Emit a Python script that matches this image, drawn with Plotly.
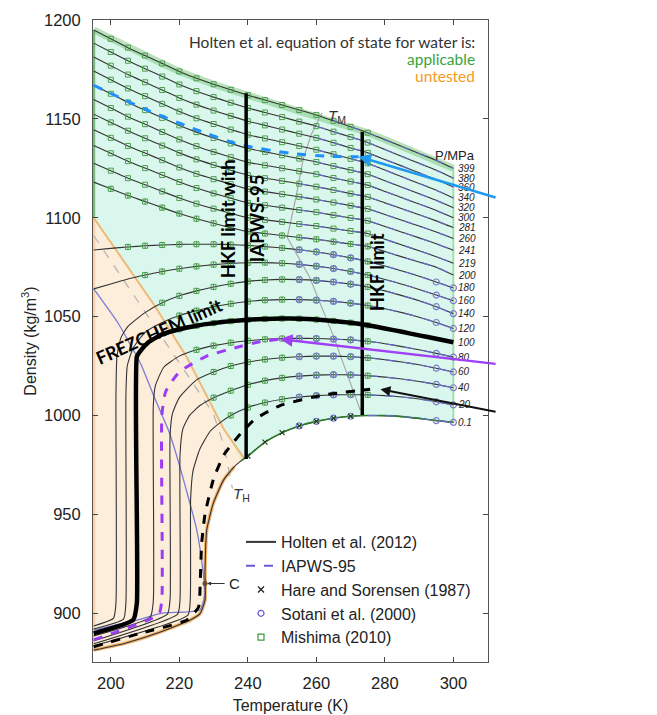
import plotly.graph_objects as go

# ---------------- axes ----------------
X_RANGE = [194.8, 310.1]
Y_RANGE = [875.3, 1200]
X_TICKS = [200, 220, 240, 260, 280, 300]
Y_TICKS = [900, 950, 1000, 1050, 1100, 1150, 1200]

# ---------------- isobars (Holten et al. 2012), density in kg/m3 ----------------
T_GRID = [195, 200, 205, 210, 215, 220, 225, 230, 235, 240, 245, 250, 255, 260, 265, 270,
          275, 280, 285, 290, 295, 300]
rho_399 = [1195, 1190.5, 1186, 1182, 1178, 1174, 1170.5, 1167.5, 1164.7, 1162, 1159.5, 1157, 1154.5, 1152, 1149, 1146, 1143, 1139.5, 1136, 1132.5, 1129, 1125]
rho_380 = [1188.3, 1183.8, 1179.4, 1175.4, 1171.4, 1167.4, 1164, 1161, 1158.2, 1155.5, 1153.2, 1150.9, 1148.6, 1146.3, 1143.5, 1140.8, 1138, 1134.5, 1131, 1127.5, 1124, 1120]
rho_360 = [1181.3, 1176.9, 1172.4, 1168.5, 1164.6, 1160.6, 1157.2, 1154.2, 1151.5, 1148.8, 1146.7, 1144.6, 1142.5, 1140.4, 1137.9, 1135.3, 1132.8, 1129.4, 1126.1, 1122.7, 1119.3, 1115.5]
rho_340 = [1174.2, 1169.8, 1165.4, 1161.5, 1157.6, 1153.7, 1150.3, 1147.4, 1144.6, 1142, 1140.1, 1138.2, 1136.3, 1134.4, 1132.1, 1129.8, 1127.5, 1124.1, 1120.7, 1117.3, 1113.9, 1110]
rho_320 = [1167, 1162.7, 1158.3, 1154.4, 1150.5, 1146.7, 1143.3, 1140.3, 1137.6, 1135, 1133.3, 1131.6, 1129.9, 1128.2, 1126.1, 1124.1, 1122, 1118.7, 1115.4, 1112.1, 1108.8, 1105]
rho_300 = [1159.8, 1155.5, 1151.1, 1147.3, 1143.4, 1139.6, 1136.2, 1133.3, 1130.6, 1128, 1126.5, 1125, 1123.5, 1122, 1120.1, 1118.3, 1116.5, 1113.3, 1110.1, 1106.9, 1103.7, 1100]
rho_281 = [1152.4, 1148.2, 1144, 1140.2, 1136.5, 1132.8, 1129.5, 1126.7, 1124, 1121.5, 1120, 1118.6, 1117.2, 1115.7, 1114, 1112.2, 1110.5, 1107.5, 1104.5, 1101.5, 1098.4, 1095]
rho_260 = [1144.5, 1140.4, 1136.3, 1132.7, 1129.1, 1125.4, 1122.2, 1119.5, 1117, 1114.5, 1113.2, 1111.9, 1110.6, 1109.2, 1107.7, 1106.1, 1104.5, 1101.6, 1098.7, 1095.8, 1092.8, 1089.5]
rho_241 = [1136.5, 1132.6, 1128.6, 1125.1, 1121.6, 1118.1, 1115, 1112.3, 1109.9, 1107.5, 1106.3, 1105.1, 1103.9, 1102.8, 1101.3, 1099.9, 1098.5, 1095.6, 1092.7, 1089.8, 1086.8, 1083.5]
rho_219 = [1127.5, 1123.8, 1120, 1116.7, 1113.3, 1110, 1107.1, 1104.6, 1102.3, 1100, 1098.9, 1097.9, 1096.8, 1095.8, 1094.5, 1093.3, 1092, 1089.1, 1086.2, 1083.3, 1080.3, 1077]
rho_200 = [1118, 1114.6, 1111.2, 1108.2, 1105.1, 1102.1, 1099.5, 1097.2, 1095, 1093, 1092, 1091, 1090, 1089.1, 1087.9, 1086.7, 1085.5, 1082.9, 1080.2, 1077.6, 1075, 1071]
rho_180 = [1083.7, 1084.5, 1085.2, 1085.8, 1086.2, 1086.5, 1086.6, 1086.6, 1086.4, 1086, 1085.4, 1084.7, 1083.8, 1082.7, 1081.3, 1079.7, 1077.9, 1075.6, 1073.1, 1070.4, 1067.5, 1064.5]
rho_160 = [1064, 1066.5, 1069, 1071, 1072.8, 1074.2, 1075.4, 1076.3, 1076.9, 1077.2, 1077.3, 1077, 1076.4, 1075.5, 1074.3, 1072.8, 1071, 1068.8, 1066.4, 1063.7, 1060.9, 1058]

# low-pressure isobars: low-temperature branch (jump) followed by grid values
T_140 = [195, 200.8, 201.5, 201.5, 201.8, 203] + T_GRID[2:]
rho_140 = [893.5, 897.5, 905, 1010, 1030, 1039.5,
           1045, 1052, 1057, 1060.5, 1063, 1065, 1066.6, 1067.8, 1068.5, 1068.8, 1068.7, 1068.3, 1067.5, 1066.4, 1065, 1063, 1060.6, 1058, 1055, 1051.5]
T_120 = [195, 203.7, 204.4, 204.4, 204.8, 206.5] + T_GRID[3:]
rho_120 = [892, 897, 905, 1010, 1025, 1034,
           1042, 1047, 1050.5, 1053, 1055, 1056.5, 1057.6, 1058.3, 1058.6, 1058.6, 1058.3, 1057.7, 1056.8, 1055.6, 1054, 1052, 1049.7, 1047, 1044]
T_100 = [195, 206.5, 207.6, 207.6, 208.6, 211] + T_GRID[4:]
rho_100 = [889.8, 896.5, 905, 1029.7, 1032.5, 1037,
           1041, 1043.6, 1045.4, 1046.7, 1047.7, 1048.4, 1048.8, 1049, 1048.9, 1048.5, 1047.8, 1046.9, 1045.6, 1044, 1042.3, 1040.5, 1038.8, 1037]
T_80 = [195, 211.5, 212.4, 212.4, 213, 215.5] + T_GRID[5:]
rho_80 = [888.5, 898, 906, 1005, 1015, 1024.5,
          1030, 1033.2, 1035.3, 1036.8, 1037.8, 1038.5, 1038.9, 1039, 1038.9, 1038.6, 1038.2, 1037.5, 1036.3, 1034.8, 1033.2, 1031.4, 1029.5]
T_60 = [195, 216.5, 217.3, 217.3, 218, 220] + T_GRID[6:]
rho_60 = [886, 899.5, 907, 990, 1001, 1009,
          1018, 1022, 1025, 1027, 1028.3, 1029.2, 1029.7, 1030, 1030, 1029.7, 1029.1, 1028.2, 1027, 1025.6, 1023.9, 1022]
T_40 = [195, 219.5, 220.2, 220.2, 221, 223, 226] + T_GRID[7:]
rho_40 = [884.5, 899.5, 907, 980, 993, 1000, 1005,
          1009, 1012.5, 1015.5, 1017.6, 1019, 1019.9, 1020.4, 1020.6, 1020.5, 1020.1, 1019.4, 1018.4, 1017.2, 1015.7, 1014]
T_20 = [195, 222.5, 223.2, 223.3, 224, 226, 229, 232] + T_GRID[8:]
rho_20 = [883.5, 899, 907, 958, 972, 983, 992, 996.5,
          1000, 1004, 1006.5, 1008.2, 1009.3, 1010, 1010.4, 1010.5, 1010.4, 1010, 1009.3, 1008.3, 1006.9, 1005.3]
T_01 = [195, 204, 213.4, 223.2, 226.1, 227.5, 227.5, 228, 229.9, 232.9, 236, 238] + T_GRID[9:]
rho_01 = [881.3, 884.7, 889.8, 896.5, 899.9, 906.6, 921.8, 942, 955.5, 967.3, 974, 977,
          979.5, 986.5, 991.3, 994.7, 997, 998.6, 999.6, 999.95, 999.9, 999.4, 998.5, 997.4, 996.5]

P_LABELS = ["399", "380", "360", "340", "320", "300", "281", "260", "241", "219",
            "200", "180", "160", "140", "120", "100", "80", "60", "40", "20", "0.1"]
ALL_T = [T_GRID] * 13 + [T_140, T_120, T_100, T_80, T_60, T_40, T_20, T_01]
ALL_RHO = [rho_399, rho_380, rho_360, rho_340, rho_320, rho_300, rho_281, rho_260, rho_241,
           rho_219, rho_200, rho_180, rho_160, rho_140, rho_120, rho_100, rho_80, rho_60,
           rho_40, rho_20, rho_01]
# melting temperature on each isobar (IAPWS-95 comparison starts there)
TM_P = [261, 259.3, 257.6, 256.8, 256, 255.1, 254.2, 253.3, 252.4, 251.4, 251.3, 252.5,
        254.7, 257.2, 259.7, 262.2, 264.6, 266.9, 269.1, 271.2, 273.2]

# ---------------- experimental data positions ----------------
MISHIMA_T = [200, 205, 210, 215, 220, 225, 230, 235, 240, 245, 250, 255, 260, 265, 270, 275]
MISHIMA_TMIN = [200, 200, 200, 200, 200, 200, 200, 200, 200, 200, 200, 205, 210, 215, 220, 220,
                225, 230, 230, 235, 999]
SOTANI_T = [255, 260, 265, 270, 295, 300]
SOTANI_P = ["180", "160", "140", "120", "80", "60", "40", "20", "0.1"]
HARE_T = [240, 245, 250, 255, 260, 265, 270]

# ---------------- other curves ----------------
bound_T = [195, 213, 222, 233, 239]          # applicable / untested limit
bound_rho = [1100, 1055, 1030, 993, 978]
TH_T = [195, 212, 229.9, 233, 235.5]           # homogeneous nucleation T_H
TH_rho = [1091, 1047, 1001, 985, 963]
TM_T = [272.8, 265, 258, 251.5, 254, 256.2, 258.5, 261.6]   # melting line T_M
TM_rho = [1002.7, 1040, 1070, 1090, 1110, 1130, 1142, 1153]
blue_T = [195, 202, 208.6, 213, 216.8, 220, 225.1, 227, 227.5, 226, 215, 207.6, 195]
blue_rho = [1064, 1047, 1026.5, 1008, 992.6, 975, 942, 920, 910, 901.6, 900, 896.5, 891.5]

pluto_T = [195, 209.5, 225.1, 238, 252.4, 264, 272.3]
pluto_rho = [1167, 1155.3, 1144.4, 1136.8, 1132.6, 1131, 1130.9]
charon_T = [195, 214, 214.9, 214.9, 216, 220, 228, 238, 243.5, 249.4]
charon_rho = [886.5, 899.5, 907, 1000, 1012, 1022, 1030, 1035, 1037.3, 1038.6]
ceres_T = [195, 208.6, 222.2, 225.6, 226.1, 226.5, 227.5, 230, 233, 237, 242, 249.4, 262, 275.7]
ceres_rho = [883, 889.8, 896.5, 903, 916, 935, 950, 968, 980, 989, 998, 1005, 1010.3, 1013.2]

hkf_left_T = [239.5, 239.5]
hkf_left_rho = [978, 1162.9]
hkf_right_T = [273.4, 273.4]
hkf_right_rho = [1000.2, 1143.5]
crit_T = [227.5]
crit_rho = [915]


# pixel -> data helpers (text placement only)
def px(xp):
    return 200 + (xp - 110.7) / 3.426


def py(yp):
    return 1200 - (yp - 20) / 1.977


fig = go.Figure()
NOH = dict(hoverinfo="skip", showlegend=False)

# ---- region fills ----
g01_T = [t for t in T_01 if t >= 238][::-1]
g01_r = [r for t, r in zip(T_01, rho_01) if t >= 238][::-1]
green_T = T_GRID + g01_T + bound_T[::-1][1:]
green_r = rho_399 + g01_r + bound_rho[::-1][1:]
fig.add_trace(go.Scatter(x=green_T, y=green_r, fill="toself", mode="none",
                         fillcolor="rgba(185,240,222,0.55)", **NOH))
o01_T = [t for t in T_01 if t < 238][::-1]
o01_r = [r for t, r in zip(T_01, rho_01) if t < 238][::-1]
fig.add_trace(go.Scatter(x=bound_T + o01_T, y=bound_rho + o01_r, fill="toself", mode="none",
                         fillcolor="rgba(252,226,196,0.6)", **NOH))

# boundary strokes
fig.add_trace(go.Scatter(x=T_GRID, y=rho_399, mode="lines", line=dict(color="rgba(120,200,120,0.5)", width=7), **NOH))
fig.add_trace(go.Scatter(x=[300, 300], y=[rho_01[-1], rho_399[-1]], mode="lines",
                         line=dict(color="rgba(120,200,120,0.6)", width=2), **NOH))
fig.add_trace(go.Scatter(x=[195, 195], y=[1100, rho_399[0]], mode="lines",
                         line=dict(color="rgba(90,170,90,0.8)", width=3), **NOH))
fig.add_trace(go.Scatter(x=[195, 195], y=[rho_01[0], 1100], mode="lines",
                         line=dict(color="rgba(250,200,150,0.8)", width=3), **NOH))
fig.add_trace(go.Scatter(x=bound_T, y=bound_rho, mode="lines", line=dict(color="rgba(240,170,90,0.8)", width=2), **NOH))
fig.add_trace(go.Scatter(x=o01_T, y=o01_r, mode="lines",
                         line=dict(color="rgba(240,170,90,0.9)", width=3.5, shape="spline", smoothing=0.5), **NOH))

# thin reference lines
fig.add_trace(go.Scatter(x=TH_T, y=TH_rho, mode="lines", line=dict(color="#b0b0b0", width=1.2, dash="dash"), **NOH))
fig.add_trace(go.Scatter(x=TM_T, y=TM_rho, mode="lines", line=dict(color="#a8a8a8", width=1.2), **NOH))
fig.add_trace(go.Scatter(x=blue_T, y=blue_rho, mode="lines",
                         line=dict(color="#7b7bd6", width=1.3, shape="spline", smoothing=0.5), **NOH))

# Holten isobars
for lab, t, r in zip(P_LABELS, ALL_T, ALL_RHO):
    if lab == "100":
        continue
    fig.add_trace(go.Scatter(x=t, y=r, mode="lines",
                             line=dict(color="#333333", width=1.1, shape="spline", smoothing=0.5), **NOH))
# 0.1 MPa in the applicable region (green)
fig.add_trace(go.Scatter(x=g01_T, y=g01_r, mode="lines",
                         line=dict(color="#2f7a2f", width=1.6, shape="spline", smoothing=0.5), **NOH))

# IAPWS-95 isobars above the melting line
for tm, t, r in zip(TM_P, ALL_T, ALL_RHO):
    it = [a for a in t if a >= tm]
    ir = [b for a, b in zip(t, r) if a >= tm]
    fig.add_trace(go.Scatter(x=it, y=ir, mode="lines",
                             line=dict(color="#6a6acd", width=1.2, dash="dash", shape="spline", smoothing=0.5), **NOH))

# Mishima squares
for lab, tmin, t, r in zip(P_LABELS, MISHIMA_TMIN, ALL_T, ALL_RHO):
    mt = [a for a in t if a in MISHIMA_T and a >= tmin]
    mr = [b for a, b in zip(t, r) if a in MISHIMA_T and a >= tmin]
    if not mt:
        continue
    p = float(lab)
    err = dict(type="constant", value=1.6, thickness=1, width=0, color="#4a9e4a", visible=p <= 200)
    fig.add_trace(go.Scatter(x=mt, y=mr, mode="markers", error_y=err,
                             marker=dict(symbol="square-open", size=5, color="#4a9e4a", line=dict(width=1)), **NOH))
# Sotani circles
for lab, t, r in zip(P_LABELS, ALL_T, ALL_RHO):
    if lab not in SOTANI_P:
        continue
    st = [a for a in t if a in SOTANI_T]
    sr = [b for a, b in zip(t, r) if a in SOTANI_T]
    fig.add_trace(go.Scatter(x=st, y=sr, mode="markers",
                             marker=dict(symbol="circle-open", size=6, color="#7a7ad2", line=dict(width=1.2)), **NOH))
# Hare & Sorensen crosses (0.1 MPa)
ht = [a for a in T_01 if a in HARE_T]
hr = [b for a, b in zip(T_01, rho_01) if a in HARE_T]
fig.add_trace(go.Scatter(x=ht, y=hr, mode="markers",
                         marker=dict(symbol="x-thin", size=5, color="#1f3f1f", line=dict(width=1.2, color="#1f3f1f")), **NOH))

# seafloor curves
fig.add_trace(go.Scatter(x=T_100, y=rho_100, mode="lines",
                         line=dict(color="black", width=4.5, shape="spline", smoothing=0.5), **NOH))
fig.add_trace(go.Scatter(x=pluto_T, y=pluto_rho, mode="lines",
                         line=dict(color="#1e90ff", width=3, dash="dash", shape="spline", smoothing=0.6), **NOH))
fig.add_trace(go.Scatter(x=charon_T, y=charon_rho, mode="lines",
                         line=dict(color="#9d3cf5", width=3, dash="dash", shape="spline", smoothing=0.5), **NOH))
fig.add_trace(go.Scatter(x=ceres_T, y=ceres_rho, mode="lines",
                         line=dict(color="black", width=3, dash="dash", shape="spline", smoothing=0.5), **NOH))

# HKF limits
fig.add_trace(go.Scatter(x=hkf_left_T, y=hkf_left_rho, mode="lines", line=dict(color="black", width=3.5), **NOH))
fig.add_trace(go.Scatter(x=hkf_right_T, y=hkf_right_rho, mode="lines", line=dict(color="black", width=3.5), **NOH))
fig.add_trace(go.Scatter(x=crit_T, y=crit_rho, mode="markers", marker=dict(color="#6b4a2b", size=5), **NOH))

# legend entries
fig.add_trace(go.Scatter(x=[None], y=[None], mode="lines", line=dict(color="#333333", width=2),
                         name="Holten et al. (2012)", legendgroup="a"))
fig.add_trace(go.Scatter(x=[None], y=[None], mode="lines", line=dict(color="#6a5acd", width=2, dash="dash"),
                         name="IAPWS-95", legendgroup="b"))
fig.add_trace(go.Scatter(x=[None], y=[None], mode="markers",
                         marker=dict(symbol="x-thin", color="#222", size=6, line=dict(width=1.3, color="#222")),
                         name="Hare and Sorensen (1987)", legendgroup="c"))
fig.add_trace(go.Scatter(x=[None], y=[None], mode="markers",
                         marker=dict(symbol="circle-open", color="#6a5acd", size=6, line=dict(width=1.2)),
                         name="Sotani et al. (2000)", legendgroup="d"))
fig.add_trace(go.Scatter(x=[None], y=[None], mode="markers",
                         marker=dict(symbol="square-open", color="#3c9a3c", size=6, line=dict(width=1.2)),
                         name="Mishima (2010)", legendgroup="e"))

ann = []
for lab, r in zip(P_LABELS, ALL_RHO):
    ann.append(dict(x=300.8, y=r[-1], text="<i>" + lab + "</i>", showarrow=False, xanchor="left",
                    font=dict(family="Liberation Sans", size=10, color="#222")))
ann.append(dict(x=px(477), y=py(155), text="P/MPa", showarrow=False, xanchor="right",
                font=dict(family="Liberation Sans", size=13, color="#222")))
ann.append(dict(x=px(477), y=py(42), text="Holten et al. equation of state for water is:", showarrow=False,
                xanchor="right", font=dict(family="Lato", size=15.5, color="#333")))
ann.append(dict(x=px(477), y=py(59), text="applicable", showarrow=False, xanchor="right",
                font=dict(family="Lato", size=15.5, color="#3aa33a")))
ann.append(dict(x=px(477), y=py(76), text="untested", showarrow=False, xanchor="right",
                font=dict(family="Lato", size=15.5, color="#f59a23")))
ann.append(dict(x=px(337), y=py(116), text="<i>T</i><sub>M</sub>", showarrow=False,
                font=dict(family="Liberation Sans", size=15, color="#333")))
ann.append(dict(x=px(241), y=py(494), text="<i>T</i><sub>H</sub>", showarrow=False,
                font=dict(family="Liberation Sans", size=15, color="#333")))
ann.append(dict(x=px(227), y=py(583), text="C", showarrow=False, xanchor="left",
                font=dict(family="Liberation Sans", size=15, color="#222")))
ann.append(dict(x=crit_T[0] + 0.6, y=crit_rho[0], ax=px(226), ay=crit_rho[0], axref="x", ayref="y",
                showarrow=True, arrowhead=2, arrowsize=0.8, arrowwidth=1, arrowcolor="#333", text=""))
# rotated labels
ann.append(dict(x=px(228), y=py(219), text="<b>HKF limit with</b>", textangle=-90, showarrow=False,
                font=dict(family="Lato", size=18.5, color="black")))
ann.append(dict(x=px(257), y=py(218), text="<b>IAPWS-95</b>", textangle=-90, showarrow=False,
                font=dict(family="Lato", size=18.5, color="black")))
ann.append(dict(x=px(377), y=py(272), text="<b>HKF limit</b>", textangle=-90, showarrow=False,
                font=dict(family="Lato", size=18.5, color="black")))
ann.append(dict(x=px(159), y=py(331), text="<b>FREZCHEM limit</b>", textangle=-24, showarrow=False,
                font=dict(family="Lato", size=18, color="black")))
# seafloor arrows
ann.append(dict(x=pluto_T[-1], y=pluto_rho[-1], ax=px(497), ay=py(198), axref="x", ayref="y", showarrow=True,
                arrowhead=2, arrowsize=1, arrowwidth=2.5, arrowcolor="#1e9af0", text=""))
ann.append(dict(x=charon_T[-1], y=charon_rho[-1], ax=px(497), ay=py(364), axref="x", ayref="y", showarrow=True,
                arrowhead=2, arrowsize=1, arrowwidth=2.5, arrowcolor="#a040f5", text=""))
ann.append(dict(x=ceres_T[-1] + 3, y=ceres_rho[-1], ax=px(497), ay=py(412), axref="x", ayref="y", showarrow=True,
                arrowhead=2, arrowsize=1, arrowwidth=2, arrowcolor="#111", text=""))
side = [
    (209, "Pluto/Eris seafloor", 15.5, "#1a96f0"),
    (227, "(McKinnon et al. 2008;", 10.5, "#5aaef0"),
    (242, "Robuchon and Nimmo 2011)", 10.5, "#5aaef0"),
    (367, "Charon seafloor", 15.5, "#a03cf0"),
    (384, "(Desch et al. 2009)", 10.5, "#b585f2"),
    (417, "Ceres seafloor", 15.5, "#222222"),
    (434, "(Neveu et al. in preparation)", 10.2, "#555555"),
]
for yp, txt, sz, col in side:
    ann.append(dict(x=px(503), y=py(yp), text=txt, showarrow=False, xanchor="left",
                    font=dict(family="Lato", size=sz, color=col)))

fig.update_layout(
    width=657, height=715,
    margin=dict(l=93, r=169, t=20, b=53),
    paper_bgcolor="white", plot_bgcolor="white",
    annotations=ann,
    showlegend=True,
    legend=dict(x=(241 - 93) / 395, y=(662 - 525) / 642, xanchor="left", yanchor="top",
                bgcolor="rgba(0,0,0,0)", font=dict(family="Liberation Sans", size=16, color="#222"),
                tracegroupgap=0, itemwidth=30),
    font=dict(family="Liberation Sans", size=14, color="#222"),
)
fig.update_xaxes(range=X_RANGE, tickvals=X_TICKS, ticks="inside", ticklen=5, mirror="ticks", showline=True,
                 linecolor="#555", linewidth=1, showgrid=False, zeroline=False, automargin=False,
                 ticklabelstandoff=6,
                 title=dict(text="Temperature (K)", standoff=9, font=dict(size=16)), tickfont=dict(size=16.5))
fig.update_yaxes(range=Y_RANGE, tickvals=Y_TICKS, ticks="inside", ticklen=5, mirror="ticks", showline=True,
                 linecolor="#555", linewidth=1, showgrid=False, zeroline=False, automargin=False,
                 ticklabelstandoff=8,
                 title=dict(text="Density (kg/m<sup>3</sup>)", standoff=3, font=dict(size=16)), tickfont=dict(size=16.5))

fig.write_html("out.html")
